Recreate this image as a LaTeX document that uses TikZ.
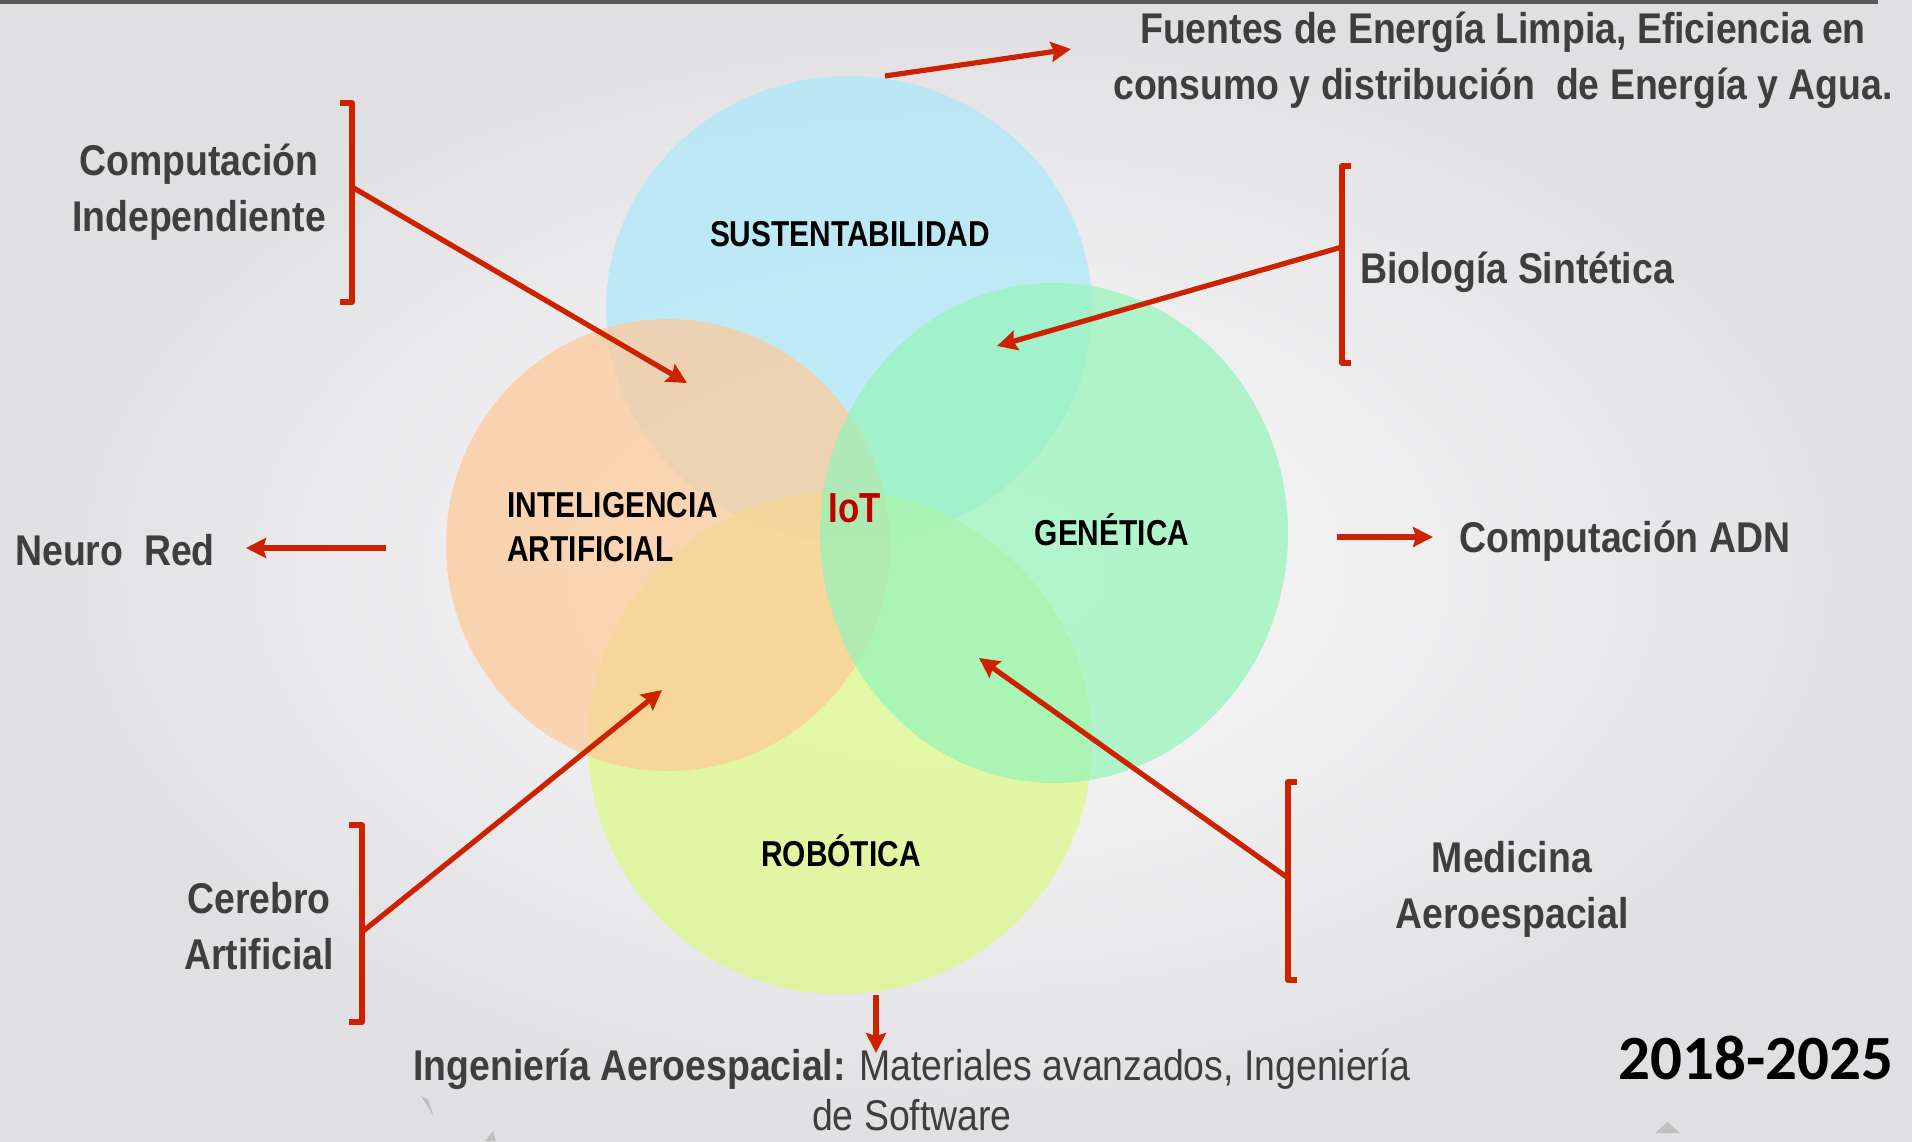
\documentclass[tikz,border=0pt]{standalone}
\usepackage{fontspec}
\setmainfont{Liberation Sans}
\newfontfamily\lblfont[FakeStretch=0.87]{Liberation Sans}
\newfontfamily\capfont[FakeStretch=0.83]{Liberation Sans}
\newfontfamily\yearfont{Carlito}
\usetikzlibrary{arrows.meta}

\definecolor{arrowred}{RGB}{204,34,0}
\definecolor{labelgray}{RGB}{62,62,62}
\definecolor{iotred}{RGB}{192,0,0}
\definecolor{bginner}{RGB}{252,252,252}
\definecolor{bgouter}{RGB}{224,224,227}
\definecolor{topbar}{RGB}{88,88,88}
\definecolor{decogray}{RGB}{192,192,192}
\definecolor{sustfill}{RGB}{172,233,250}
\definecolor{iafill}{RGB}{255,202,152}
\definecolor{robfill}{RGB}{220,250,135}
\definecolor{genfill}{RGB}{150,244,186}

\tikzset{every picture/.style={line width=0.75pt}}

\begin{document}
\begin{tikzpicture}[x=0.5pt,y=0.5pt,yscale=-1,xscale=1,
	venn/.style={fill opacity=0.72},
	lbl/.style={text=labelgray, font=\lblfont\bfseries\fontsize{21.5}{28}\selectfont, align=center},
	circlbl/.style={text=black, font=\capfont\bfseries\fontsize{18}{22}\selectfont, align=left},
	redarrow/.style={draw=arrowred, line width=2.6pt, -{Stealth[length=10pt,width=10pt,inset=1.5pt]}},
	bracket/.style={draw=arrowred, line width=2.7pt, line join=round}]
	%Background
	\shade [inner color=bginner, outer color=bgouter] (0,0) rectangle (1912,1141) ;
	\useasboundingbox (0,0) rectangle (1912,1141) ;
	\fill [topbar] (0,0) rectangle (1878,4) ;
	%Shape: Triangle
	\fill [decogray] (1655,1133) -- (1680,1133) -- (1667.5,1122) -- cycle ;
	\fill [decogray] (421,1096) -- (428,1099) -- (434,1117) -- cycle ;
	\fill [decogray] (485,1141) -- (493,1131) -- (496,1141) -- cycle ;

	%Shape: Ellipse
	\fill [sustfill, venn] (849,309) ellipse [x radius=243, y radius=233] ;
	%Shape: Ellipse
	\fill [robfill, venn] (840,743) ellipse [x radius=252, y radius=251] ;
	%Shape: Ellipse
	\fill [iafill, venn] (668,545) ellipse [x radius=222, y radius=226] ;
	%Shape: Ellipse
	\fill [genfill, venn] (1054,533) ellipse [x radius=234, y radius=250] ;

	% Text Node
	\node [circlbl] (sust) at (850,234) {SUSTENTABILIDAD};
	% Text Node
	\node [circlbl, anchor=west] (ia) at (500,527) {INTELIGENCIA\\ARTIFICIAL};
	% Text Node
	\node [circlbl, text=iotred, font=\capfont\bfseries\fontsize{21}{24}\selectfont] (iot) at (855,508) {IoT};
	% Text Node
	\node [circlbl] (gen) at (1112,530) {GENÉTICA};
	% Text Node
	\node [circlbl] (rob) at (841,851) {ROBÓTICA};

	% Text Node
	\node [lbl] (fuentes) at (1503,60) {Fuentes de Energía Limpia, Eficiencia en\\consumo y distribución\ \ de Energía y Agua.};
	% Text Node
	\node [lbl] (compind) at (199,192) {Computación\\Independiente};
	% Text Node
	\node [lbl] (bio) at (1517,272) {Biología Sintética};
	% Text Node
	\node [lbl] (neuro) at (115,550) {Neuro\ \ Red};
	% Text Node
	\node [lbl] (adn) at (1625,541) {Computación ADN};
	% Text Node
	\node [lbl] (medicina) at (1512,889) {Medicina\\Aeroespacial};
	% Text Node
	\node [lbl] (cerebro) at (259,926) {Cerebro\\Artificial};
	% Text Node
	\node [lbl, inner sep=1pt, font=\lblfont\bfseries\fontsize{21.5}{25}\selectfont] (ingenieria) at (912,1090) {Ingeniería Aeroespacial: {\mdseries Materiales avanzados, Ingeniería}\\{\mdseries de Software}};
	% Text Node
	\node [font=\yearfont\bfseries\fontsize{31.5}{36}\selectfont] (year) at (1756,1058) {2018-2025};

	%Brackets
	\draw [bracket] (340,103) -- (352,103) -- (352,302) -- (340,302) ;
	\draw [bracket] (1351,166) -- (1342,166) -- (1342,363) -- (1351,363) ;
	\draw [bracket] (1297,782) -- (1288,782) -- (1288,980) -- (1297,980) ;
	\draw [bracket] (349,825) -- (362,825) -- (362,1022) -- (349,1022) ;
	\coordinate (ci) at (352,187) ;
	\coordinate (bi) at (1342,247) ;
	\coordinate (me) at (1288,878) ;
	\coordinate (ce) at (362,932) ;

	%Arrow ends
	\coordinate (citip) at (687,383) ;
	\coordinate (bitip) at (997,346) ;
	\coordinate (metip) at (979,658) ;
	\coordinate (cetip) at (662,690) ;
	\coordinate (fu1) at (885,76) ;
	\coordinate (fu2) at (1071,49) ;
	\coordinate (ne1) at (386,548) ;
	\coordinate (ne2) at (246,548) ;
	\coordinate (ad1) at (1337,537) ;
	\coordinate (ad2) at (1433,537) ;
	\coordinate (in1) at (876,995) ;
	\coordinate (in2) at (876,1053) ;

	%Straight Lines
	\draw [redarrow] (ci) -- (citip) ;
	\draw [redarrow] (bi) -- (bitip) ;
	\draw [redarrow] (me) -- (metip) ;
	\draw [redarrow] (ce) -- (cetip) ;
	\draw [redarrow] (fu1) -- (fu2) ;
	\draw [redarrow] (ne1) -- (ne2) ;
	\draw [redarrow] (ad1) -- (ad2) ;
	\draw [redarrow] (in1) -- (in2) ;

\end{tikzpicture}
\end{document}
